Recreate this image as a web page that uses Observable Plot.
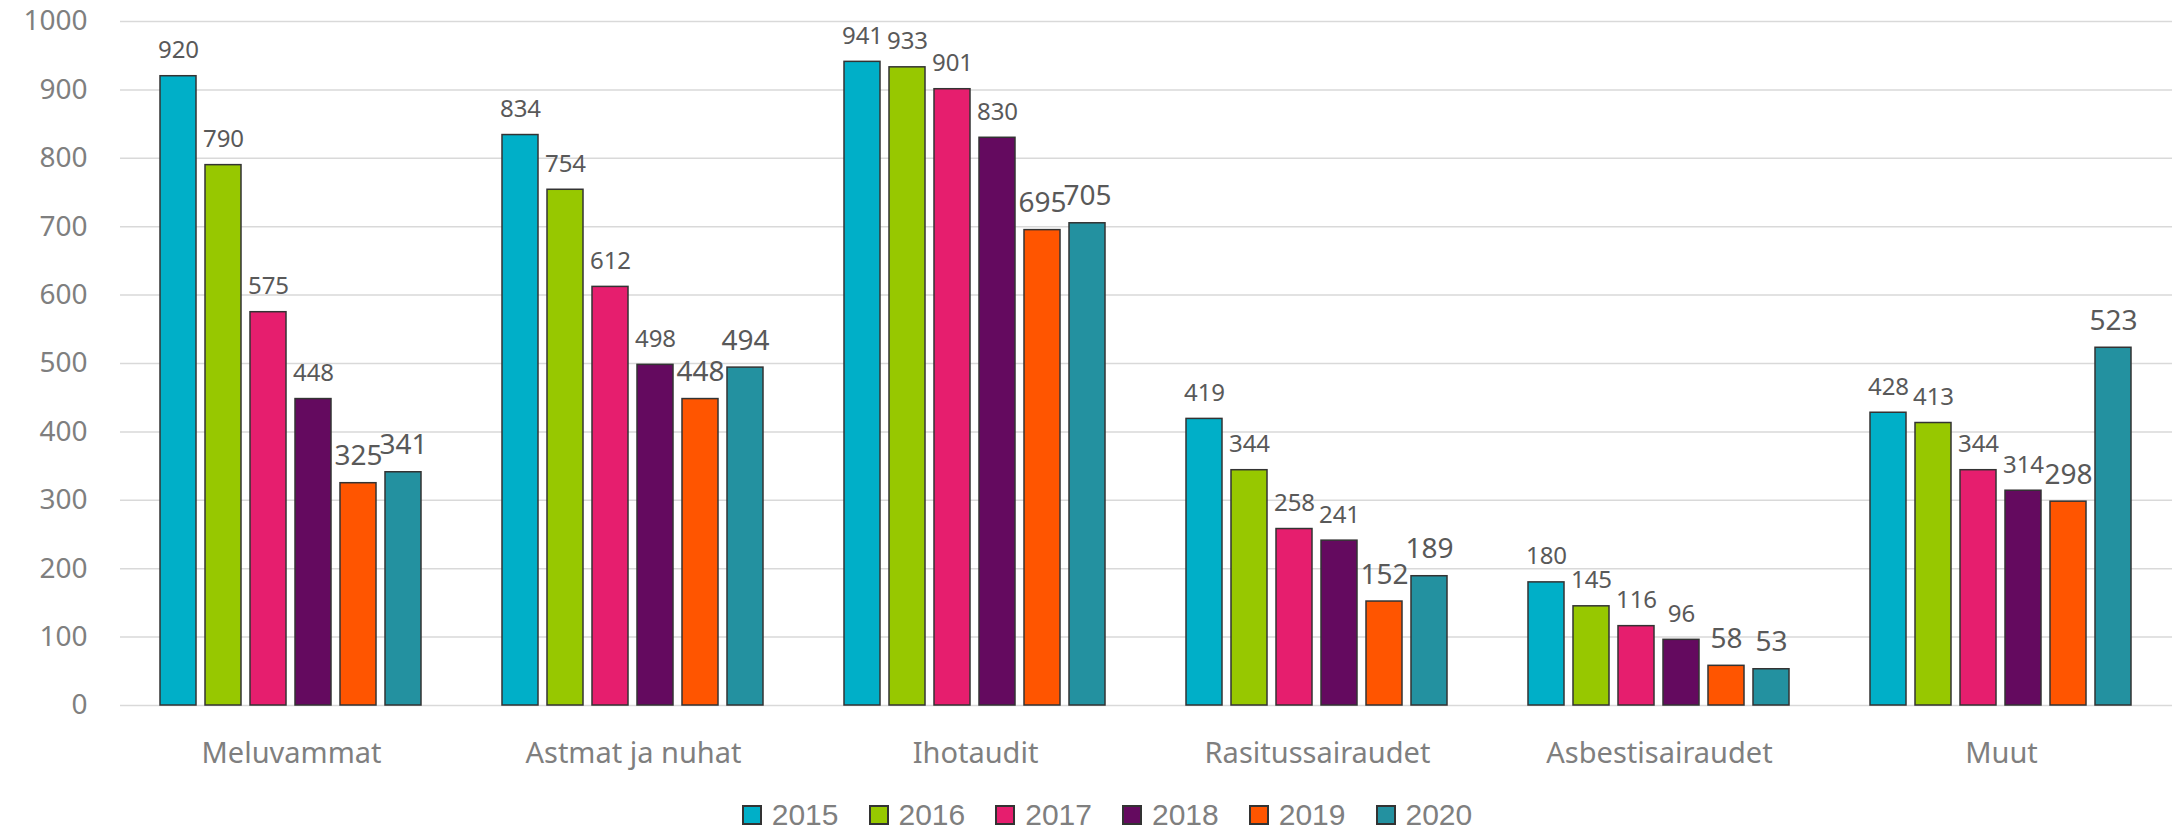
<!DOCTYPE html>
<html>
<head>
<meta charset="utf-8">
<script src="https://cdn.jsdelivr.net/npm/d3@7"></script>
<script src="https://cdn.jsdelivr.net/npm/@observablehq/plot@0.6"></script>
<style>
  html, body { margin: 0; padding: 0; background: #ffffff; }
  body { width: 2174px; height: 832px; overflow: hidden; font-family: "Noto Sans", sans-serif; }
  #chart svg { display: block; }
  #legend { display: flex; justify-content: center; align-items: center; margin-top: 20px; height: 30px; padding-left: 40px; }
  .item { display: flex; align-items: center; margin: 0 15px; }
  .sw { width: 20px; height: 20px; box-sizing: border-box; border: 2px solid #333333; margin-right: 10px; }
  .lab { font-family: "Liberation Sans", sans-serif; font-size: 30px; color: #7f7f7f; line-height: 30px; }
</style>
</head>
<body>
<div id="chart"></div>
<div id="legend"></div>
<script>
const categories = ["Meluvammat", "Astmat ja nuhat", "Ihotaudit", "Rasitussairaudet", "Asbestisairaudet", "Muut"];
const years = ["2015", "2016", "2017", "2018", "2019", "2020"];
const colors = ["#00AFC8", "#97C800", "#E61E6E", "#640A5F", "#FF5500", "#2391A0"];
const v2015 = [920, 834, 941, 419, 180, 428];
const v2016 = [790, 754, 933, 344, 145, 413];
const v2017 = [575, 612, 901, 258, 116, 344];
const v2018 = [448, 498, 830, 241, 96, 314];
const v2019 = [325, 448, 695, 152, 58, 298];
const v2020 = [341, 494, 705, 189, 53, 523];
const yTicks = [0, 100, 200, 300, 400, 500, 600, 700, 800, 900, 1000];

const series = [v2015, v2016, v2017, v2018, v2019, v2020];
const data = [];
categories.forEach((c, i) => {
  years.forEach((y, j) => {
    data.push({category: c, year: y, value: series[j][i], big: j >= 4});
  });
});

const chart = Plot.plot({
  width: 2174,
  height: 780,
  marginLeft: 118,
  marginRight: 0,
  marginTop: 21,
  marginBottom: 75,
  style: {fontFamily: "Noto Sans, sans-serif", fontSize: "28px", background: "#ffffff"},
  fx: {domain: categories, paddingInner: 0.227, paddingOuter: 0.1135, label: null},
  x: {domain: years, paddingInner: 0.196, paddingOuter: 0, axis: null},
  y: {domain: [0, 1000], label: null},
  color: {domain: years, range: colors},
  marks: [
    Plot.ruleY(yTicks, {stroke: "#d9d9d9", strokeWidth: 1.5, insetLeft: -39, insetRight: -39}),
    Plot.axisY({ticks: yTicks, tickSize: 0, tickPadding: 72, tickFormat: d => String(d), fill: "#7f7f7f", fontSize: 28, label: null}),
    Plot.axisFx({anchor: "bottom", tickSize: 0, tickPadding: 37, fill: "#7f7f7f", fontSize: 29, label: null}),
    Plot.barY(data, {fx: "category", x: "year", y: "value", fill: "year", stroke: "#333333", strokeWidth: 1.5}),
    Plot.text(data.filter(d => !d.big), {fx: "category", x: "year", y: "value", text: d => String(d.value), lineAnchor: "bottom", dy: -18, fill: "#595959", fontSize: 24}),
    Plot.text(data.filter(d => d.big), {fx: "category", x: "year", y: "value", text: d => String(d.value), lineAnchor: "bottom", dy: -18, fill: "#595959", fontSize: 28})
  ]
});
document.getElementById("chart").appendChild(chart);

const legend = d3.select("#legend");
years.forEach((y, i) => {
  const it = legend.append("div").attr("class", "item");
  it.append("div").attr("class", "sw").style("background", colors[i]);
  it.append("span").attr("class", "lab").text(y);
});
</script>
</body>
</html>
